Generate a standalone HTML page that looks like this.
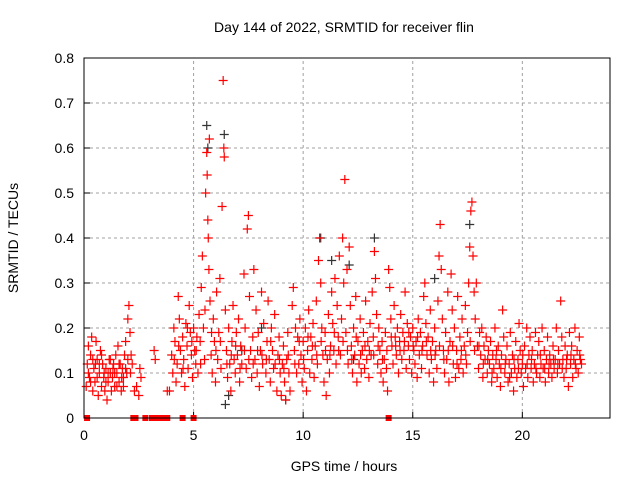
<!DOCTYPE html>
<html><head><meta charset="utf-8">
<style>
body{margin:0;background:#fff;}
svg{display:block;font-family:"Liberation Sans",sans-serif;}
</style></head>
<body>
<svg id="chart" width="640" height="480" viewBox="0 0 640 480">
<rect width="640" height="480" fill="#fff"/>
<text x="344" y="32" font-size="14" text-anchor="middle" fill="#000">Day 144 of 2022, SRMTID for receiver flin</text>
<text x="0" y="0" transform="translate(18,238) rotate(-90)" font-size="14" text-anchor="middle">SRMTID / TECUs</text>
<text x="344" y="471" font-size="14" text-anchor="middle">GPS time / hours</text>
<g id="grid"></g>
<g id="marks"></g>
<rect x="84" y="58" width="526" height="360" fill="none" stroke="#000" stroke-width="1"/>
</svg>
<script>
const xTicks=[0,5,10,15,20];
const yTicks=[0,0.1,0.2,0.3,0.4,0.5,0.6,0.7,0.8];
const yTickLabels=["0","0.1","0.2","0.3","0.4","0.5","0.6","0.7","0.8"];
const zeroHours=[0.14,2.25,2.35,2.8,3.1,3.3,3.5,3.7,3.8,4.5,5.0,13.9];
const blackPts=[[5.6,0.65],[5.65,0.6],[6.4,0.63],[6.45,0.03],[6.6,0.05],[10.8,0.4],[11.3,0.35],[12.1,0.34],[13.25,0.4],[12.3,0.13],[9.2,0.04],[8.1,0.2],[7.2,0.15],[16.0,0.31],[17.6,0.43]];
const redPts=[[0.1,.07],[0.15,.12],[0.2,.16],[0.25,.09],[0.3,.14],[0.35,.18],[0.4,.06],[0.45,.11],[0.5,.08],[0.55,.17],[0.6,.13],[0.65,.05],[0.7,.1],[0.75,.15],[0.8,.07],[0.85,.12],[0.9,.09],[0.95,.06],[1.0,.11],[1.05,.04],[1.1,.08],[1.15,.13],[1.2,.1],[1.25,.06],[1.3,.09],[1.35,.12],[1.4,.07],[1.45,.14],[1.5,.1],[1.55,.16],[1.6,.08],[1.65,.12],[1.7,.06],[1.75,.11],[1.8,.09],[1.85,.14],[1.9,.17],[1.95,.1],[2.0,.22],[2.05,.25],[2.1,.19],[2.15,.14],[2.2,.12],[2.3,.06],[2.4,.07],[2.5,.05],[2.55,.11],[2.6,.09],
[0.2,.1],[0.4,.13],[0.6,.09],[0.8,.14],[1.0,.08],[1.2,.13],[1.4,.1],[1.6,.12],[1.8,.07],[2.0,.13],[0.3,.08],[0.7,.12],[1.1,.1],[1.5,.07],[1.9,.11],
[3.2,.15],[3.25,.13],[3.8,.06],[3.9,.06],[4.0,.14],[4.05,.1],
[4.1,.2],[4.15,.17],[4.2,.08],[4.25,.12],[4.3,.27],[4.35,.22],[4.4,.15],[4.45,.1],[4.5,.18],[4.55,.13],[4.6,.07],[4.65,.21],[4.7,.16],[4.75,.11],[4.8,.25],[4.85,.19],[4.9,.14],[4.95,.09],[5.0,.2],[5.05,.15],[5.1,.12],[5.15,.18],[5.2,.1],[5.25,.23],[5.3,.17],
[5.35,.29],[5.4,.36],[5.45,.2],[5.5,.13],[5.55,.5],[5.6,.59],[5.62,.54],[5.65,.44],[5.67,.4],[5.7,.33],[5.72,.62],[5.75,.26],[5.8,.14],[5.85,.1],[5.9,.22],[5.95,.17],[6.0,.08],[6.05,.28],[6.1,.13],[6.15,.19],[6.2,.31],[6.25,.11],[6.3,.47],[6.35,.75],[6.38,.6],[6.4,.58],[6.45,.24],[6.5,.15],[6.55,.09],[6.6,.2],[6.65,.12],[6.7,.06],[6.75,.17],[6.8,.25],[6.85,.13],[6.9,.1],[6.95,.19],[7.0,.14],[7.05,.22],[7.1,.08],[7.15,.16],[7.2,.12],[7.3,.32],[7.35,.2],[7.4,.11],[7.45,.42],[7.5,.45],[7.55,.27],[7.6,.15],[7.65,.09],[7.7,.18],[7.75,.33],[7.8,.13],[7.85,.24],[7.9,.1],[7.95,.19],[8.0,.07],[8.05,.15],[8.1,.28],[8.15,.12],[8.2,.21],[8.3,.1],[8.35,.17],[8.4,.26],[8.45,.13],[8.5,.08],[8.55,.2],[8.6,.15],[8.65,.11],[8.7,.23],[8.8,.06],[8.85,.14],[8.9,.18],[8.95,.1],[9.0,.05],[9.05,.12],[9.1,.16],[9.15,.08],[9.2,.04],[9.25,.13],[9.3,.19],[9.35,.1],[9.4,.06],
[9.5,.25],[9.55,.29],[9.6,.15],[9.65,.2],[9.7,.1],[9.75,.18],[9.8,.12],[9.85,.22],[9.9,.14],[9.95,.08],[10.0,.17],[10.05,.11],[10.1,.2],[10.15,.06],[10.2,.15],[10.25,.24],[10.3,.1],[10.35,.18],[10.4,.13],[10.45,.21],[10.5,.09],[10.55,.16],[10.6,.26],[10.65,.12],[10.7,.35],[10.75,.4],[10.8,.3],[10.85,.2],[10.9,.14],[10.95,.08],[11.0,.19],[11.05,.05],[11.1,.13],[11.15,.23],[11.2,.1],[11.25,.16],[11.3,.28],[11.35,.21],[11.4,.15],[11.45,.31],[11.5,.12],[11.55,.25],[11.6,.18],[11.65,.36],[11.7,.14],[11.75,.22],[11.8,.4],[11.85,.3],[11.9,.53],[11.95,.19],[12.0,.33],[12.05,.12],[12.1,.38],[12.15,.25],[12.2,.16],[12.25,.1],[12.3,.2],[12.35,.14],[12.4,.27],[12.45,.08],[12.5,.17],[12.55,.12],[12.6,.22],[12.65,.1],[12.7,.15],[12.75,.19],[12.8,.11],[12.85,.26],[12.9,.13],[12.95,.17],[13.0,.09],[13.05,.21],[13.1,.14],[13.15,.28],[13.2,.18],[13.25,.37],[13.3,.31],[13.35,.23],[13.4,.12],[13.45,.2],[13.5,.15],[13.55,.1],[13.6,.17],[13.65,.08],[13.7,.13],[13.75,.19],[13.8,.11],[13.85,.06],[13.9,.33],[13.95,.29],
[14.0,.22],[14.05,.16],[14.1,.12],[14.15,.25],[14.2,.18],[14.25,.14],[14.3,.2],[14.35,.1],[14.4,.17],[14.45,.23],[14.5,.13],[14.55,.19],[14.6,.15],[14.65,.28],[14.7,.11],[14.75,.21],[14.8,.16],[14.85,.13],[14.9,.18],[14.95,.1],[15.0,.2],[15.05,.15],[15.1,.12],[15.15,.17],[15.2,.09],[15.25,.22],[15.3,.14],[15.35,.19],[15.4,.11],[15.45,.16],[15.5,.27],[15.55,.3],[15.6,.21],[15.65,.14],[15.7,.18],[15.75,.1],[15.8,.24],[15.85,.13],[15.9,.17],[15.95,.08],[16.0,.2],[16.05,.15],[16.1,.11],[16.15,.26],[16.2,.36],[16.25,.43],[16.3,.33],[16.35,.22],[16.4,.15],[16.45,.1],[16.5,.19],[16.55,.13],[16.6,.28],[16.65,.08],[16.7,.17],[16.75,.32],[16.8,.24],[16.85,.12],[16.9,.2],[16.95,.09],[17.0,.15],[17.05,.27],[17.1,.11],[17.15,.18],[17.2,.13],[17.25,.22],[17.3,.1],[17.35,.16],[17.4,.25],[17.45,.12],[17.5,.19],[17.55,.3],[17.6,.38],[17.65,.46],[17.7,.48],[17.75,.36],[17.8,.28],[17.85,.22],[17.9,.3],[17.95,.16],
[18.0,.11],[18.05,.19],[18.1,.14],[18.15,.2],[18.2,.09],[18.25,.16],[18.3,.13],[18.35,.18],[18.4,.1],[18.45,.15],[18.5,.12],[18.55,.17],[18.6,.08],[18.65,.14],[18.7,.11],[18.75,.2],[18.8,.13],[18.85,.09],[18.9,.16],[18.95,.12],[19.0,.07],[19.05,.14],[19.1,.24],[19.15,.18],[19.2,.1],[19.25,.13],[19.3,.16],[19.35,.08],[19.4,.12],[19.45,.19],[19.5,.1],[19.55,.14],[19.6,.06],[19.65,.11],[19.7,.17],[19.75,.09],[19.8,.13],[19.85,.21],[19.9,.15],[19.95,.1],[20.0,.12],[20.05,.07],[20.1,.16],[20.15,.11],[20.2,.2],[20.25,.09],[20.3,.14],[20.35,.18],[20.4,.11],[20.45,.15],[20.5,.08],[20.55,.12],[20.6,.19],[20.65,.1],[20.7,.14],[20.75,.17],[20.8,.09],[20.85,.12],[20.9,.2],[20.95,.11],[21.0,.15],[21.05,.08],[21.1,.13],[21.15,.18],[21.2,.1],[21.25,.14],[21.3,.12],[21.35,.09],[21.4,.16],[21.45,.11],[21.5,.13],[21.55,.2],[21.6,.1],[21.65,.15],[21.7,.12],[21.75,.26],[21.8,.18],[21.85,.13],[21.9,.09],[21.95,.16],[22.0,.11],[22.05,.14],[22.1,.07],[22.15,.19],[22.2,.12],[22.25,.16],[22.3,.09],[22.35,.13],[22.4,.2],[22.45,.11],[22.5,.15],[22.55,.1],[22.6,.18],[22.65,.13],[22.7,.12]];
const redPts2=[[4.12,.13],[4.32,.16],[4.52,.11],[4.72,.2],[4.92,.17],[5.12,.15],[5.32,.12],[5.52,.24],[5.82,.19],[6.02,.15],[6.22,.17],[6.52,.12],[6.72,.14],[6.92,.16],[7.12,.11],[7.32,.15],[7.52,.13],[7.72,.12],[7.92,.15],[8.12,.14],[8.32,.13],[8.52,.17],[8.72,.12],[8.92,.13],[9.12,.11],[9.32,.14],[9.62,.12],[9.82,.17],[10.02,.13],[10.22,.18],[10.42,.16],[10.62,.14],[10.82,.17],[11.02,.15],[11.22,.14],[11.42,.19],[11.62,.15],[11.82,.17],[12.02,.15],[12.22,.13],[12.42,.18],[12.62,.14],[12.82,.16],[13.02,.15],[13.22,.14],[13.42,.16],[13.62,.13],[13.82,.15],[14.02,.18],[14.22,.16],[14.42,.15],[14.62,.17],[14.82,.19],[15.02,.16],[15.22,.18],[15.42,.15],[15.62,.17],[15.82,.15],[16.02,.14],[16.22,.16],[16.42,.13],[16.62,.15],[16.82,.16],[17.02,.12],[17.22,.15],[17.42,.14],[17.62,.17],[17.82,.15],[18.02,.16],[18.22,.12],[18.42,.13],[18.62,.1],[18.82,.15],[19.02,.11],[19.22,.12],[19.42,.09],[19.62,.13],[19.82,.11],[20.02,.14],[20.22,.12],[20.42,.13],[20.62,.11],[20.82,.14],[21.02,.11],[21.22,.12],[21.42,.13],[21.62,.12],[21.82,.11],[22.02,.13],[22.22,.14],[22.42,.12],[22.62,.14],[0.52,.12],[0.92,.1],[1.32,.11],[1.72,.09],[2.12,.1]];

const NS="http://www.w3.org/2000/svg";
const X0=84,X1=610,Y0=418,Y1=58,XMAX=24,YMAX=0.8;
function xs(t){return X0+(t/XMAX)*(X1-X0);}
function ys(v){return Y0-(v/YMAX)*(Y0-Y1);}
const grid=document.getElementById('grid');
const marks=document.getElementById('marks');
function mk(tag,attrs,parent){const e=document.createElementNS(NS,tag);for(const k in attrs)e.setAttribute(k,attrs[k]);parent.appendChild(e);return e;}

yTicks.forEach((v,i)=>{
  const y=ys(v);
  if(i>0&&i<yTicks.length-1){
    const g=mk('line',{x1:X0,x2:X1,y1:y,y2:y,stroke:'#a0a0a0','stroke-dasharray':'3,3'},grid);
    
    
  }
  const tk=mk('line',{x1:X0,x2:X0+6,y1:y,y2:y,stroke:'#000'},grid);
  
  
  const t=mk('text',{x:X0-10,y:y+5,'font-size':14,'text-anchor':'end'},grid);
  t.textContent=yTickLabels[i];
  
  
});
xTicks.forEach(v=>{
  const x=xs(v);
  if(v>0){
    const g=mk('line',{x1:x,x2:x,y1:Y0,y2:Y1,stroke:'#a0a0a0','stroke-dasharray':'3,3'},grid);
    
    
  }
  const tk=mk('line',{x1:x,x2:x,y1:Y0,y2:Y0-6,stroke:'#000'},grid);
  
  
  const t=mk('text',{x:x,y:Y0+22,'font-size':14,'text-anchor':'middle'},grid);
  t.textContent=String(v);
  
  
});
function plus(t,v,col,name){
  const x=xs(t),y=ys(v);
  const p=mk('path',{d:`M${x-4.5},${y}H${x+4.5}M${x},${y-4.5}V${y+4.5}`,stroke:col,'stroke-width':1.2,fill:'none'},marks);
  
  
}
blackPts.forEach(p=>plus(p[0],p[1],'#333','black-point'));
redPts.forEach(p=>plus(p[0],p[1],'#ff0000','red-point'));
redPts2.forEach(p=>plus(p[0],p[1],'#ff0000','red-point'));
zeroHours.forEach(t=>{
  const r=mk('rect',{x:xs(t)-3,y:Y0-3,width:6,height:6,fill:'#ff0000'},marks);
  
  
});
</script>
</body></html>
